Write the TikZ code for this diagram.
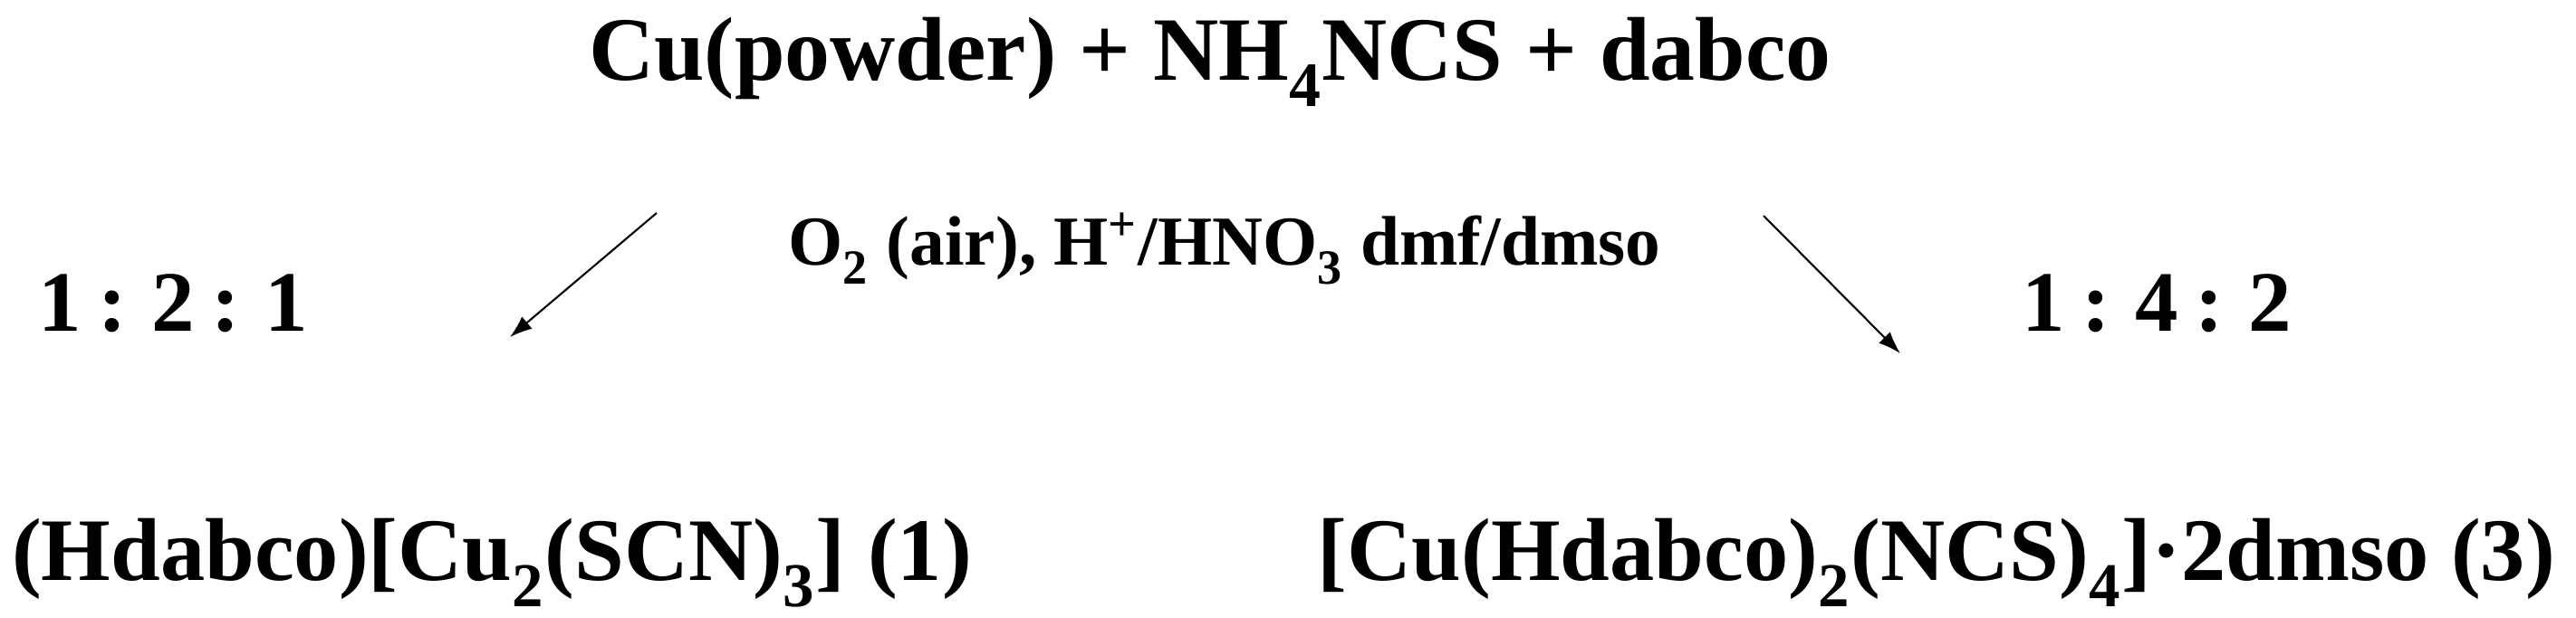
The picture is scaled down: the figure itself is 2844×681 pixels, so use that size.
\documentclass[tikz,border=0pt]{standalone}
\usepackage{fontspec}
\setmainfont{Liberation Serif}
\usepackage{tikz}
\usetikzlibrary{arrows.meta}
\newcommand{\lowsub}[1]{\raisebox{-0.14em}{\textsubscript{#1}}}
\newcommand{\ratiotxt}[1]{{\spaceskip=0.2em\relax #1}}

\begin{document}
\begin{tikzpicture}[x=0.01cm,y=-0.01cm,
	big/.style={font=\bfseries\fontsize{28}{34}\selectfont, inner sep=0pt, anchor=base},
	cond/.style={font=\bfseries\fontsize{22}{26}\selectfont, inner sep=0pt, anchor=base},
	ratio/.style={font=\bfseries\fontsize{27}{32}\selectfont, inner sep=0pt, anchor=base},
	react/.style={-{Latex[length=7pt,width=5pt]}, line width=0.6pt}]
	\useasboundingbox (0,0) rectangle (2844,681);
	% reactants and conditions
	\node[big, font=\bfseries\fontsize{28.4}{34}\selectfont] (start) at (1336,88) {Cu(powder) + NH\lowsub{4}NCS + dabco};
	\node[cond] (cond) at (1352,292) {O\lowsub{2} (air), H\textsuperscript{+}/HNO\lowsub{3} dmf/dmso};
	% molar ratios
	\node[ratio] (ratioA) at (191,365) {\ratiotxt{1 : 2 : 1}};
	\node[ratio] (ratioB) at (2381,365) {\ratiotxt{1 : 4 : 2}};
	% products
	\node[big] (prodA) at (543,640) {(Hdabco)[Cu\lowsub{2}(SCN)\lowsub{3}] (1)};
	\node[big] (prodB) at (2138,640) {[Cu(Hdabco)\lowsub{2}(NCS)\lowsub{4}]·2dmso (3)};
	% arrows
	\coordinate (fromA) at (725,235);
	\coordinate (toA) at (563,372);
	\coordinate (fromB) at (1947,238);
	\coordinate (toB) at (2098,390);
	\draw[react] (fromA) -- (toA);
	\draw[react] (fromB) -- (toB);
\end{tikzpicture}
\end{document}
